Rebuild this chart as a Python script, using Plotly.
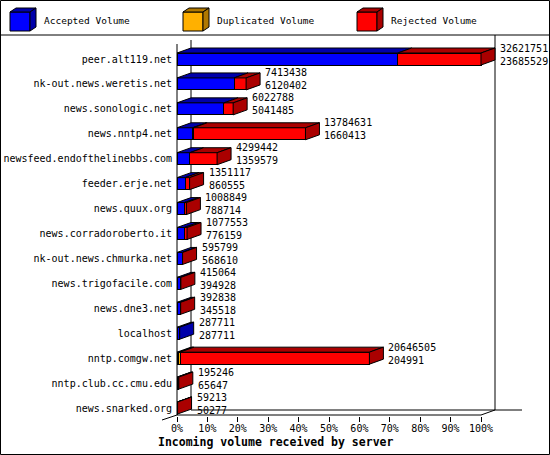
import plotly.graph_objects as go

# ---------------- data ----------------
servers = [
    "peer.alt119.net", "nk-out.news.weretis.net", "news.sonologic.net",
    "news.nntp4.net", "newsfeed.endofthelinebbs.com", "feeder.erje.net",
    "news.quux.org", "news.corradoroberto.it", "nk-out.news.chmurka.net",
    "news.trigofacile.com", "news.dne3.net", "localhost", "nntp.comgw.net",
    "nntp.club.cc.cmu.edu", "news.snarked.org",
]
total = [32621751, 7413438, 6022788, 13784631, 4299442, 1351117, 1008849,
         1077553, 595799, 415064, 392838, 287711, 20646505, 195246, 59213]
accepted = [23685529, 6120402, 5041485, 1660413, 1359579, 860555, 788714,
            776159, 568610, 394928, 345518, 287711, 204991, 65647, 50277]
# duplicated volume is not printed; estimated from the thin orange slivers
duplicated = [0, 0, 0, 90000, 0, 0, 0, 0, 0, 0, 0, 0, 120000, 0, 0]

series_names = ["Accepted Volume", "Duplicated Volume", "Rejected Volume"]
x_ticks = [0, 10, 20, 30, 40, 50, 60, 70, 80, 90, 100]
x_tick_labels = ["0%", "10%", "20%", "30%", "40%", "50%", "60%", "70%",
                 "80%", "90%", "100%"]
x_title = "Incoming volume received by server"

# ---------------- styling / geometry ----------------
front_colors = ["#0000ff", "#ffb000", "#ff0000"]
dark_colors = ["#0000aa", "#b07800", "#aa0000"]
FONT = "DejaVu Sans Mono"

W, H = 550, 455
L, R, T, B = 176, 0, 35, 39
X0_PX = 177          # pixel of 0 %
PX_PER_PCT = 3.04
ROW0_PX = 59         # pixel of first row centre
ROW_PX = 24.93

xr = [(L - X0_PX) / PX_PER_PCT, (W - R - X0_PX) / PX_PER_PCT]
yr = [(H - B - ROW0_PX) / ROW_PX, (T - ROW0_PX) / ROW_PX]

DX = 14 / PX_PER_PCT     # depth in x (percent units)
DY = 5 / ROW_PX          # depth in y (row units)
BW = 12 / ROW_PX         # bar thickness (row units)

PW = W - L - R
PH = H - T - B


def px_x(px):
    return (px - L) / PW


def px_y(py):
    return (H - B - py) / PH


mx = max(total)
rejected = [t - a - d for t, a, d in zip(total, accepted, duplicated)]
series_vals = [accepted, duplicated, rejected]
series_pct = [[v / mx * 100 for v in s] for s in series_vals]
rows = list(range(len(servers)))

fig = go.Figure()

# front faces (stacked horizontal bars)
for name, pct, col in zip(series_names, series_pct, front_colors):
    fig.add_trace(go.Bar(
        x=[p if p > 0 else None for p in pct], y=rows, orientation="h",
        width=BW, name=name, marker=dict(color=col, line=dict(color="black", width=1)),
        showlegend=False, hoverinfo="skip",
    ))

# top faces
cum = [0.0] * len(rows)
for k, pct in enumerate(series_pct):
    xs, ys = [], []
    for i in rows:
        x0 = cum[i]
        x1 = cum[i] + pct[i]
        if pct[i] > 0:
            yt = i - BW / 2
            xs += [x0, x1, x1 + DX, x0 + DX, x0, None]
            ys += [yt, yt, yt - DY, yt - DY, yt, None]
        cum[i] = x1
    fig.add_trace(go.Scatter(
        x=xs, y=ys, mode="lines", fill="toself", fillcolor=dark_colors[k],
        line=dict(color="black", width=1), showlegend=False, hoverinfo="skip",
    ))

# side faces (colour of last non-empty segment)
side = {k: ([], []) for k in range(3)}
for i in rows:
    last = max(k for k in range(3) if series_pct[k][i] > 0)
    xe = sum(series_pct[k][i] for k in range(3))
    yt, yb = i - BW / 2, i + BW / 2
    xs, ys = side[last]
    xs += [xe, xe + DX, xe + DX, xe, xe, None]
    ys += [yt, yt - DY, yb - DY, yb, yt, None]
for k, (xs, ys) in side.items():
    if xs:
        fig.add_trace(go.Scatter(
            x=xs, y=ys, mode="lines", fill="toself", fillcolor=dark_colors[k],
            line=dict(color="black", width=1), showlegend=False, hoverinfo="skip",
        ))

# value labels (total / accepted)
for i in rows:
    xe = sum(series_pct[k][i] for k in range(3))
    fig.add_annotation(
        x=xe + DX, y=i - 0.18, xref="x", yref="y", xanchor="left", yanchor="middle",
        xshift=3, text=f"{total[i]}<br>{accepted[i]}", showarrow=False, align="left",
        font=dict(family=FONT, size=10, color="black"),
    )

# ---------------- 3D frame ----------------
y_front = (415 - ROW0_PX) / ROW_PX
y_back = y_front - DY
y_top_back = (40 - ROW0_PX) / ROW_PX
y_top_front = (44 - ROW0_PX) / ROW_PX
floor_end = (522 - X0_PX) / PX_PER_PCT
line = dict(color="black", width=1)
shapes = [
    dict(type="line", xref="x", yref="y", x0=0, x1=0, y0=y_top_front, y1=y_front, line=line, layer="below"),
    dict(type="line", xref="x", yref="y", x0=DX, x1=DX, y0=y_top_back, y1=y_back, line=line, layer="below"),
    dict(type="line", xref="x", yref="y", x0=DX, x1=floor_end, y0=y_back, y1=y_back, line=line, layer="below"),
    dict(type="line", xref="x", yref="y", x0=100 + DX, x1=100 + DX, y0=yr[1], y1=y_back, line=line, layer="below"),
    dict(type="line", xref="x", yref="y", x0=0, x1=100, y0=y_front, y1=y_front, line=line, layer="below"),
    dict(type="line", xref="x", yref="y", x0=100, x1=100 + DX, y0=y_front, y1=y_back, line=line, layer="below"),
    dict(type="line", xref="paper", yref="paper", x0=px_x(162), x1=px_x(177), y0=px_y(420), y1=px_y(415), line=line),
    # separator under legend & outer border
    dict(type="line", xref="paper", yref="paper", x0=px_x(0), x1=px_x(550), y0=px_y(35), y1=px_y(35), line=line),
    dict(type="rect", xref="paper", yref="paper", x0=px_x(0.5), x1=px_x(549.5), y0=px_y(0.5), y1=px_y(454.5), line=line),
]

# legend cubes
leg_x = [10, 183, 357]
for lx, name, fc, dc in zip(leg_x, series_names, front_colors, dark_colors):
    fx0, fx1, fy0, fy1 = lx, lx + 20, 12, 31
    ddx, ddy = 6, -4
    shapes.append(dict(type="rect", xref="paper", yref="paper",
                       x0=px_x(fx0), x1=px_x(fx1), y0=px_y(fy0), y1=px_y(fy1),
                       fillcolor=fc, line=line))
    top = (f"M{px_x(fx0)},{px_y(fy0)} L{px_x(fx0 + ddx)},{px_y(fy0 + ddy)} "
           f"L{px_x(fx1 + ddx)},{px_y(fy0 + ddy)} L{px_x(fx1)},{px_y(fy0)} Z")
    sidep = (f"M{px_x(fx1)},{px_y(fy0)} L{px_x(fx1 + ddx)},{px_y(fy0 + ddy)} "
             f"L{px_x(fx1 + ddx)},{px_y(fy1 + ddy)} L{px_x(fx1)},{px_y(fy1)} Z")
    shapes.append(dict(type="path", xref="paper", yref="paper", path=top, fillcolor=dc, line=line))
    shapes.append(dict(type="path", xref="paper", yref="paper", path=sidep, fillcolor=dc, line=line))
    fig.add_annotation(x=px_x(lx + 32), y=px_y(20.5), xref="paper", yref="paper",
                       xanchor="left", yanchor="middle", text=name, showarrow=False,
                       font=dict(family=FONT, size=9.5, color="black"))

fig.add_annotation(x=px_x(275), y=px_y(442), xref="paper", yref="paper",
                   xanchor="center", yanchor="middle", text=f"<b>{x_title}</b>",
                   showarrow=False, font=dict(family=FONT, size=11.5, color="black"))

fig.update_layout(
    width=W, height=H, margin=dict(l=L, r=R, t=T, b=B, pad=0),
    paper_bgcolor="white", plot_bgcolor="white", barmode="stack",
    shapes=shapes, showlegend=False,
    font=dict(family=FONT, size=10, color="black"),
    xaxis=dict(range=xr, tickvals=x_ticks, ticktext=x_tick_labels, ticks="outside",
               ticklen=5, tickcolor="black", showgrid=False, zeroline=False,
               showline=False, fixedrange=True, ticklabelstandoff=-2,
               tickfont=dict(family=FONT, size=10, color="black")),
    yaxis=dict(range=yr, tickvals=rows, ticktext=servers, ticks="", showgrid=False,
               zeroline=False, showline=False, fixedrange=True, ticklabelstandoff=3,
               tickfont=dict(family=FONT, size=10, color="black")),
)

fig.write_html("out.html", config={"displayModeBar": False},
               post_script="document.body.style.margin='0px';document.body.style.overflow='hidden';")
